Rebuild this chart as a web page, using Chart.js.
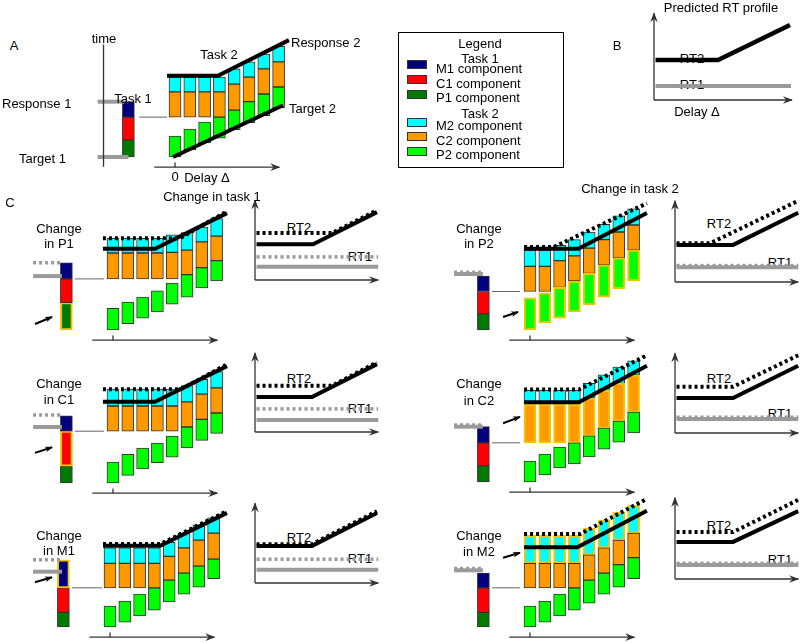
<!DOCTYPE html>
<html>
<head>
<meta charset="utf-8">
<script src="https://cdn.jsdelivr.net/npm/chart.js@4.4.1/dist/chart.umd.min.js"></script>
<style>
html,body{margin:0;padding:0;background:#fff;}
body{position:relative;width:800px;height:643px;overflow:hidden;font-family:"Liberation Sans",Arial,Helvetica,sans-serif;}
.lab{position:absolute;font-size:13px;line-height:13px;white-space:nowrap;color:#000;transform:translate(-50%,-50%);z-index:2;}
.lab.l{transform:translate(0,-50%);}
.lab.under{z-index:0;}
.lab.bg{background:#fff;}
canvas{position:absolute;z-index:1;}
#legendBox{position:absolute;left:398px;top:32px;width:166px;height:136px;border:1px solid #000;box-sizing:border-box;}
.sw{position:absolute;width:20px;height:9px;border:1px solid #333;box-sizing:border-box;}
</style>
</head>
<body>
<div id="legendBox"></div>
<script>
// ===================== DATA (time units, delay index) =====================
const delays = [0, 1, 2, 3, 4, 5, 6, 7];

// ---- Panel A ----  Task 1 components: [P1, C1, M1] as [start, end]
const A_task1 = [[0,2.4],[2.4,5.7],[5.7,7.9]];
const A_P2 = [[0,3],[1,4],[2,5],[2.7,5.7],[3.9,6.7],[4.9,7.9],[5.9,9.0],[7,10]];
const A_C2 = [[5.7,9.3],[5.7,9.3],[5.7,9.3],[5.7,9.3],[6.7,10.4],[7.9,11.4],[9.0,12.6],[10,13.6]];
const A_M2 = [[9.3,11.4],[9.3,11.4],[9.3,11.4],[9.3,11.4],[10.4,12.6],[11.4,13.6],[12.6,14.7],[13.6,15.8]];
const A_R2 = [[-0.54,11.6],[2.9,11.6],[7.7,16.7]];
const A_T2 = [[-0.13,0],[7.3,7.4]];
const A_R1 = 7.9;
const A_T1 = 0;

// ---- Change in P1 ----
const P1_task1 = [[0,3.9],[3.9,7.3],[7.3,9.6]];
const P1_P2 = [[0,3.1],[0.9,4],[1.7,4.7],[2.6,5.6],[3.7,6.7],[4.7,7.9],[6,8.9],[7,9.9]];
const P1_C2 = [[7.3,11],[7.3,11],[7.3,11],[7.3,11],[7.3,11.1],[7.9,11.4],[8.9,12.6],[9.9,13.4]];
const P1_M2 = [[11,13.1],[11,13.1],[11,13.1],[11,13.1],[11.1,13.6],[11.4,13.9],[12.6,14.7],[13.4,15.9]];
const P1_R2 = [[-0.68,11.6],[2.84,11.6],[7.7,16.7]];
const P1_R2new = [[-0.68,13.1],[4.5,13.1],[7.7,16.95]];
const P1_R1 = 7.7, P1_R1new = 9.6;

// ---- Change in C1 ----
const C1_task1 = [[0,2.4],[2.4,7.4],[7.4,9.6]];
const C1_P2 = [[0,3],[1.1,4.1],[2,5],[2.9,5.7],[3.7,6.7],[5,8],[6.1,9.1],[7.1,10]];
const C1_C2 = [[7.4,11],[7.4,11],[7.4,11],[7.4,11],[7.4,11],[8,11.6],[9.1,12.7],[10,13.6]];
const C1_M2 = [[11,13.4],[11,13.4],[11,13.4],[11,13.4],[11,13.4],[11.6,13.9],[12.7,14.8],[13.6,15.9]];
const C1_R2 = [[-0.68,11.6],[2.84,11.6],[7.7,16.7]];
const C1_R2new = [[-0.68,13.4],[4.6,13.4],[7.7,16.95]];
const C1_R1 = 8.0, C1_R1new = 9.7;

// ---- Change in M1 ----
const M1_task1 = [[0,2.1],[2.1,5.6],[5.6,9.6]];
const M1_P2 = [[0,3],[0.7,3.7],[1.6,4.7],[2.4,5.6],[3.6,6.7],[4.7,7.7],[5.7,8.7],[6.9,9.7]];
const M1_C2 = [[5.6,9.1],[5.6,9.1],[5.6,9.1],[5.6,9.1],[6.7,10.1],[7.7,11.3],[8.7,12.4],[9.7,13.4]];
const M1_M2 = [[9.1,11.3],[9.1,11.3],[9.1,11.3],[9.1,11.3],[10.1,12.1],[11.3,13.4],[12.4,14.6],[13.4,15.6]];
const M1_R2 = [[-0.47,11.6],[3.4,11.6],[7.9,16.3]];
const M1_R2new = [[-0.47,11.85],[3.4,11.85],[7.9,16.55]];
const M1_R1 = 7.9, M1_R1new = 9.6;

// ---- Change in P2 ----
const P2_task1 = [[0,2.3],[2.3,5.5],[5.5,7.7]];
const P2_P2 = [[0,4.6],[1,5.3],[1.7,6.1],[2.6,7],[3.6,8.1],[4.7,9.3],[5.9,10.3],[7,11.4]];
const P2_C2 = [[5.5,9.1],[5.5,9.1],[6.1,9.9],[7,10.6],[8.1,11.7],[9.3,12.9],[10.3,14],[11.4,15]];
const P2_M2 = [[9.1,11.4],[9.1,11.4],[9.9,12.1],[10.6,12.9],[11.7,14],[12.9,15.1],[14,16.3],[15,17.3]];
const P2_R2 = [[-0.4,11.6],[3.27,11.6],[7.9,16.7]];
const P2_R2new = [[-0.4,11.85],[1.6,11.85],[7.9,18.1]];
const P2_R1 = 8.0, P2_R1new = 8.25;

// ---- Change in C2 ----
const C2_task1 = [[0,2.3],[2.3,5.6],[5.6,7.9]];
const C2_P2 = [[0,3],[1,4],[2,5],[2.6,5.6],[3.6,6.6],[4.7,7.7],[5.7,8.7],[7,10]];
const C2_C2 = [[5.6,11.1],[5.6,11.1],[5.6,11.1],[5.6,11.1],[6.6,12],[7.7,13.1],[8.7,14.1],[10,15.3]];
const C2_M2 = [[11.1,13.1],[11.1,13.1],[11.1,13.1],[11.1,13.1],[12,14.1],[13.1,15.3],[14.1,16.4],[15.3,17.3]];
const C2_R2 = [[-0.4,11.4],[3.3,11.4],[7.9,16.6]];
const C2_R2new = [[-0.4,13.2],[3.3,13.2],[7.9,18.1]];
const C2_R1 = 7.9, C2_R1new = 8.15;

// ---- Change in M2 ----
const M2_task1 = [[0,2.1],[2.1,5.6],[5.6,7.7]];
const M2_P2 = [[0,3],[0.7,3.7],[1.6,4.7],[2.4,5.6],[3.4,6.7],[4.7,7.7],[5.7,8.9],[6.9,9.9]];
const M2_C2 = [[5.6,9.1],[5.6,9.1],[5.6,9.1],[5.6,9.1],[6.7,10.3],[7.7,11.3],[8.9,12.4],[9.9,13.4]];
const M2_M2 = [[9.1,13.1],[9.1,13.1],[9.1,13.1],[9.1,13.1],[10.3,14.1],[11.3,15.3],[12.4,16.4],[13.4,17.4]];
const M2_R2 = [[-0.4,11.4],[3.2,11.4],[7.9,16.6]];
const M2_R2new = [[-0.4,13.3],[3.4,13.3],[7.9,18.3]];
const M2_R1 = 8.1, M2_R1new = 8.35;

// ---- Predicted RT profiles (delay, RT) ----
const B_RT2 = [[0.1,5.7],[4.16,5.7],[8.83,10.7]];
const B_RT1 = [[0.1,2.0],[8.9,2.0]];
const P1_RT2 = [[0.1,5.1],[3.77,5.1],[7.92,9.7]];
const P1_RT2new = [[0.1,6.7],[5.0,6.7],[7.92,9.95]];
const P1_RT1 = [[0.1,1.9],[8.0,1.9]];
const P1_RT1new = [[0.1,3.3],[8.0,3.3]];
const C1_RT2 = [[0.1,5.0],[3.7,5.0],[7.92,9.7]];
const C1_RT2new = [[0.1,6.6],[5.0,6.6],[7.92,9.95]];
const C1_RT1 = [[0.1,1.7],[8.0,1.7]];
const C1_RT1new = [[0.1,3.3],[8.0,3.3]];
const M1_RT2 = [[0.1,5.3],[3.7,5.3],[7.92,10.0]];
const M1_RT2new = [[0.1,5.55],[3.7,5.55],[7.92,10.25]];
const M1_RT1 = [[0.1,1.9],[8.0,1.9]];
const M1_RT1new = [[0.1,3.4],[8.0,3.4]];
const P2_RT2 = [[0.1,5.3],[3.77,5.3],[8.0,9.9]];
const P2_RT2new = [[0.1,5.55],[2.3,5.55],[8.0,11.6]];
const P2_RT1 = [[0.1,2.1],[8.0,2.1]];
const P2_RT1new = [[0.1,2.35],[8.0,2.35]];
const C2_RT2 = [[0.1,5.0],[3.77,5.0],[8.0,9.6]];
const C2_RT2new = [[0.1,6.6],[3.77,6.6],[8.0,11.1]];
const C2_RT1 = [[0.1,2.0],[8.0,2.0]];
const C2_RT1new = [[0.1,2.25],[8.0,2.25]];
const M2_RT2 = [[0.1,5.3],[3.77,5.3],[8.0,9.7]];
const M2_RT2new = [[0.1,6.7],[3.77,6.7],[8.0,11.3]];
const M2_RT1 = [[0.1,2.0],[8.0,2.0]];
const M2_RT1new = [[0.1,2.25],[8.0,2.25]];

// ===================== STYLE / LAYOUT =====================
const COL = {M1:'#00007f', C1:'#ff0000', P1:'#007a00', M2:'#00ffff', C2:'#ff9900', P2:'#00ff00',
  edge:'#333333', hi:'#f5c400', gray:'#9a9a9a', black:'#000000', axis:'#333333', thin:'#666666'};
const SX = 14.8, SY = 7, RSX = 15.4;   // px per unit
const TASK1_X = -3.15;

const arrowPlugin = {
  id: 'arrowHeads',
  afterDatasetsDraw(chart) {
    const ctx = chart.ctx;
    chart.data.datasets.forEach((ds, i) => {
      if (!ds.arrowHead) return;
      const pts = chart.getDatasetMeta(i).data;
      if (pts.length < 2) return;
      const a = pts[pts.length - 2], b = pts[pts.length - 1];
      const ang = Math.atan2(b.y - a.y, b.x - a.x), L = ds.arrowHead, w = L * 0.42;
      ctx.save();
      ctx.translate(b.x, b.y); ctx.rotate(ang);
      ctx.fillStyle = ds.borderColor;
      ctx.beginPath(); ctx.moveTo(1, 0); ctx.lineTo(-L, -w); ctx.lineTo(-L * 0.65, 0); ctx.lineTo(-L, w);
      ctx.closePath(); ctx.fill(); ctx.restore();
    });
  }
};
Chart.register(arrowPlugin);

function addCanvas(left, top, w, h) {
  const c = document.createElement('canvas');
  c.width = w; c.height = h;
  c.style.left = left + 'px'; c.style.top = top + 'px';
  c.style.width = w + 'px'; c.style.height = h + 'px';
  document.body.appendChild(c);
  return c;
}
function line(pts, color, width, dash, order, arrow) {
  return {type:'line', data: pts.map(([x, y]) => ({x, y})), borderColor: color, backgroundColor: color,
    borderWidth: width, borderDash: dash || [], pointRadius: 0, fill: false, tension: 0,
    order: order, arrowHead: arrow || 0, clip: 8};
}
const barOpts = {barThickness: 12, grouped: false, borderSkipped: false};

const PANELS = [
  {task1:A_task1, P2:A_P2, C2:A_C2, M2:A_M2, r2:A_R2, r2new:null, r1:A_R1, r1new:null, t1:A_T1, t2:A_T2, changed:null,
   i0x:175, t0y:157, g:[-5.23,-3.42], g2:[-5.23,-3.15], thin:[-2.42,-0.54], timeAxisX:-4.83, arrow:null},
  {task1:P1_task1, P2:P1_P2, C2:P1_C2, M2:P1_M2, r2:P1_R2, r2new:P1_R2new, r1:P1_R1, r1new:P1_R1new, changed:'P1',
   i0x:113, t0y:330, g:[-5.4,-3.45], thin:[-2.58,-0.61], arrow:[[-5.27,0.86],[-4.12,1.86]]},
  {task1:C1_task1, P2:C1_P2, C2:C1_C2, M2:C1_M2, r2:C1_R2, r2new:C1_R2new, r1:C1_R1, r1new:C1_R1new, changed:'C1',
   i0x:113, t0y:483, g:[-5.4,-3.45], thin:[-2.58,-0.61], arrow:[[-5.27,4.3],[-4.12,5.1]]},
  {task1:M1_task1, P2:M1_P2, C2:M1_C2, M2:M1_M2, r2:M1_R2, r2new:M1_R2new, r1:M1_R1, r1new:M1_R1new, changed:'M1',
   i0x:110, t0y:627, g:[-5.2,-3.24], thin:[-2.57,-0.54], arrow:[[-5.07,6.4],[-3.92,7.1]]},
  {task1:P2_task1, P2:P2_P2, C2:P2_C2, M2:P2_M2, r2:P2_R2, r2new:P2_R2new, r1:P2_R1, r1new:P2_R1new, changed:'P2',
   i0x:530, t0y:330, g:[-5.13,-3.18], thin:[-2.57,-0.68], arrow:[[-1.82,1.86],[-0.81,2.57]]},
  {task1:C2_task1, P2:C2_P2, C2:C2_C2, M2:C2_M2, r2:C2_R2, r2new:C2_R2new, r1:C2_R1, r1new:C2_R1new, changed:'C2',
   i0x:530, t0y:482, g:[-5.13,-3.18], thin:[-2.57,-0.68], arrow:[[-1.82,8.4],[-0.68,9.3]]},
  {task1:M2_task1, P2:M2_P2, C2:M2_C2, M2:M2_M2, r2:M2_R2, r2new:M2_R2new, r1:M2_R1, r1new:M2_R1new, changed:'M2',
   i0x:530, t0y:627, g:[-5.13,-3.18], thin:[-2.57,-0.68], arrow:[[-1.82,9.9],[-0.68,10.6]]}
];

const RTS = [
  {rt2:B_RT2, rt2new:null, rt1:B_RT1, rt1new:null, ox:654, oy:100, xend:8.96, ytop:12.4, w2:4.5},
  {rt2:P1_RT2, rt2new:P1_RT2new, rt1:P1_RT1, rt1new:P1_RT1new, ox:255, oy:280, xend:8.0, ytop:11.4},
  {rt2:C1_RT2, rt2new:C1_RT2new, rt1:C1_RT1, rt1new:C1_RT1new, ox:255, oy:432, xend:8.0, ytop:11.3},
  {rt2:M1_RT2, rt2new:M1_RT2new, rt1:M1_RT1, rt1new:M1_RT1new, ox:255, oy:583, xend:8.0, ytop:11.4},
  {rt2:P2_RT2, rt2new:P2_RT2new, rt1:P2_RT1, rt1new:P2_RT1new, ox:675, oy:282, xend:8.0, ytop:11.6},
  {rt2:C2_RT2, rt2new:C2_RT2new, rt1:C2_RT1, rt1new:C2_RT1new, ox:675, oy:433, xend:8.0, ytop:11.4},
  {rt2:M2_RT2, rt2new:M2_RT2new, rt1:M2_RT1, rt1new:M2_RT1new, ox:675, oy:579, xend:8.0, ytop:11.6}
];

function baseOptions(xmin, xmax, ymin, ymax) {
  return {responsive:false, animation:false, events:[], layout:{padding:0},
    plugins:{legend:{display:false}, tooltip:{enabled:false}, title:{display:false}},
    scales:{x:{type:'linear', min:xmin, max:xmax, display:false, offset:false},
            y:{type:'linear', min:ymin, max:ymax, display:false}}};
}

function schematic(p) {
  const W = 230, LPX = 100, TOPU = 19, BOTU = 3, H = (TOPU + BOTU) * SY;
  const cv = addCanvas(p.i0x - LPX, p.t0y - TOPU * SY, W, H);
  const hi = c => p.changed === c;
  const t1names = ['P1','C1','M1'];
  const ds = [];
  ds.push(Object.assign({type:'bar', label:'Task 1', data: p.task1.map(r => ({x:TASK1_X, y:r})),
    backgroundColor: t1names.map(c => COL[c]), borderColor: t1names.map(c => hi(c) ? COL.hi : COL.edge),
    borderWidth: t1names.map(c => hi(c) ? 2 : 1), order: 6}, barOpts));
  ['P2','C2','M2'].forEach(c => ds.push(Object.assign({type:'bar', label:c,
    data: p[c].map((r, k) => ({x: delays[k], y: r})), backgroundColor: COL[c],
    borderColor: hi(c) ? COL.hi : COL.edge, borderWidth: hi(c) ? 2 : 1, order: 6}, barOpts)));
  // Response 1 (original solid, changed dotted)
  ds.push(line([[p.g[0], p.r1], [p.g[1], p.r1]], COL.gray, 4, [], 4));
  if (p.r1new != null) ds.push(line([[p.g[0], p.r1new], [p.g[1], p.r1new]], COL.gray, 3.5, [3, 3], 3));
  if (p.t1 != null) ds.push(line([[p.g2[0], p.t1], [p.g2[1], p.t1]], COL.gray, 4, [], 4));
  // connector at end of C1
  const c1end = p.task1[1][1];
  ds.push(line([[p.thin[0], c1end], [p.thin[1], c1end]], COL.thin, 1, [], 4));
  // Response 2
  ds.push(line(p.r2, COL.black, 4, [], 2));
  if (p.r2new) ds.push(line(p.r2new, COL.black, 4, [3, 3], 1));
  if (p.t2) ds.push(line(p.t2, COL.black, 4, [], 2));
  // delay axis + tick
  ds.push(line([[-1.4, -1.45], [7.05, -1.45]], COL.axis, 1.3, [], 3, 9));
  ds.push(line([[0, -1.45], [0, -0.8]], COL.axis, 1.3, [], 3));
  if (p.timeAxisX != null) ds.push(line([[p.timeAxisX, -1.4], [p.timeAxisX, 17.4]], COL.axis, 1.3, [], 3, 9));
  if (p.arrow) ds.push(line(p.arrow, COL.black, 2, [], 0, 7));
  new Chart(cv, {type:'bar', data:{datasets: ds},
    options: baseOptions(-LPX / SX, (W - LPX) / SX, -BOTU, TOPU)});
}

function rtChart(r) {
  const W = 160, H = 110, LPX = 10, TOPPX = 100;
  const cv = addCanvas(r.ox - LPX, r.oy - TOPPX, W, H);
  const ds = [];
  ds.push(line([[0, 0], [0, r.ytop]], COL.axis, 1.3, [], 4, 9));
  ds.push(line([[0, 0], [r.xend, 0]], COL.axis, 1.3, [], 4, 9));
  ds.push(line(r.rt1, COL.gray, 4, [], 3));
  if (r.rt1new) ds.push(line(r.rt1new, COL.gray, 3.5, [3, 3], 2));
  ds.push(line(r.rt2, COL.black, r.w2 || 4, [], 1));
  if (r.rt2new) ds.push(line(r.rt2new, COL.black, 4, [3, 3], 0));
  new Chart(cv, {type:'line', data:{datasets: ds},
    options: baseOptions(-LPX / RSX, (W - LPX) / RSX, -(H - TOPPX) / SY, TOPPX / SY)});
}

// ===================== TEXT =====================
// [text, x, y, mode]  mode: 'l' left-aligned, 'u' drawn under the lines, 'b' white background
const LABELS = [
  ['A',14,45], ['time',104,38,'b'], ['Response 1',2,103,'l'], ['Target 1',19,158,'l'], ['Task 1',133,98],
  ['Task 2',219,54], ['Response 2',291,42,'l'], ['Target 2',289,108,'l'], ['0',175,176], ['Delay Δ',207,177],
  ['Predicted RT profile',721,7], ['B',617,45], ['RT2',692,58,'u'], ['RT1',692,84,'u'], ['Delay Δ',697,111],
  ['Legend',480,43], ['Task 1',480,58], ['M1 component',436,68,'l'], ['C1 component',436,82.5,'l'],
  ['P1 component',436,96.5,'l'], ['Task 2',480,113], ['M2 component',436,125,'l'], ['C2 component',436,140,'l'],
  ['P2 component',436,153.5,'l'],
  ['C',10,202], ['Change in task 1',212,196], ['Change in task 2',630,188],
  ['Change',59,228], ['in P1',59,243], ['Change',59,383], ['in C1',59,399], ['Change',59,535], ['in M1',59,550],
  ['Change',479,228], ['in P2',479,243], ['Change',479,383], ['in C2',479,400], ['Change',479,535], ['in M2',479,551],
  ['RT2',299,227,'u'], ['RT1',360,256,'u'], ['RT2',299,378,'u'], ['RT1',360,408,'u'], ['RT2',299,537,'u'], ['RT1',360,558,'u'],
  ['RT2',719,223,'u'], ['RT1',780,262,'u'], ['RT2',719,378,'u'], ['RT1',780,413,'u'], ['RT2',719,525,'u'], ['RT1',780,559,'u']
];
LABELS.forEach(([t, x, y, a]) => {
  const d = document.createElement('div');
  d.className = 'lab' + (a === 'l' ? ' l' : '') + (a === 'u' ? ' under' : '') + (a === 'b' ? ' bg' : '');
  d.textContent = t; d.style.left = x + 'px'; d.style.top = y + 'px';
  document.body.appendChild(d);
});
const SWATCHES = [['M1',60],['C1',75],['P1',90],['M2',118],['C2',132],['P2',147]];
SWATCHES.forEach(([c, y]) => {
  const s = document.createElement('div');
  s.className = 'sw'; s.style.left = '407px'; s.style.top = y + 'px'; s.style.background = COL[c];
  document.body.appendChild(s);
});

PANELS.forEach(schematic);
RTS.forEach(rtChart);
</script>
</body>
</html>
